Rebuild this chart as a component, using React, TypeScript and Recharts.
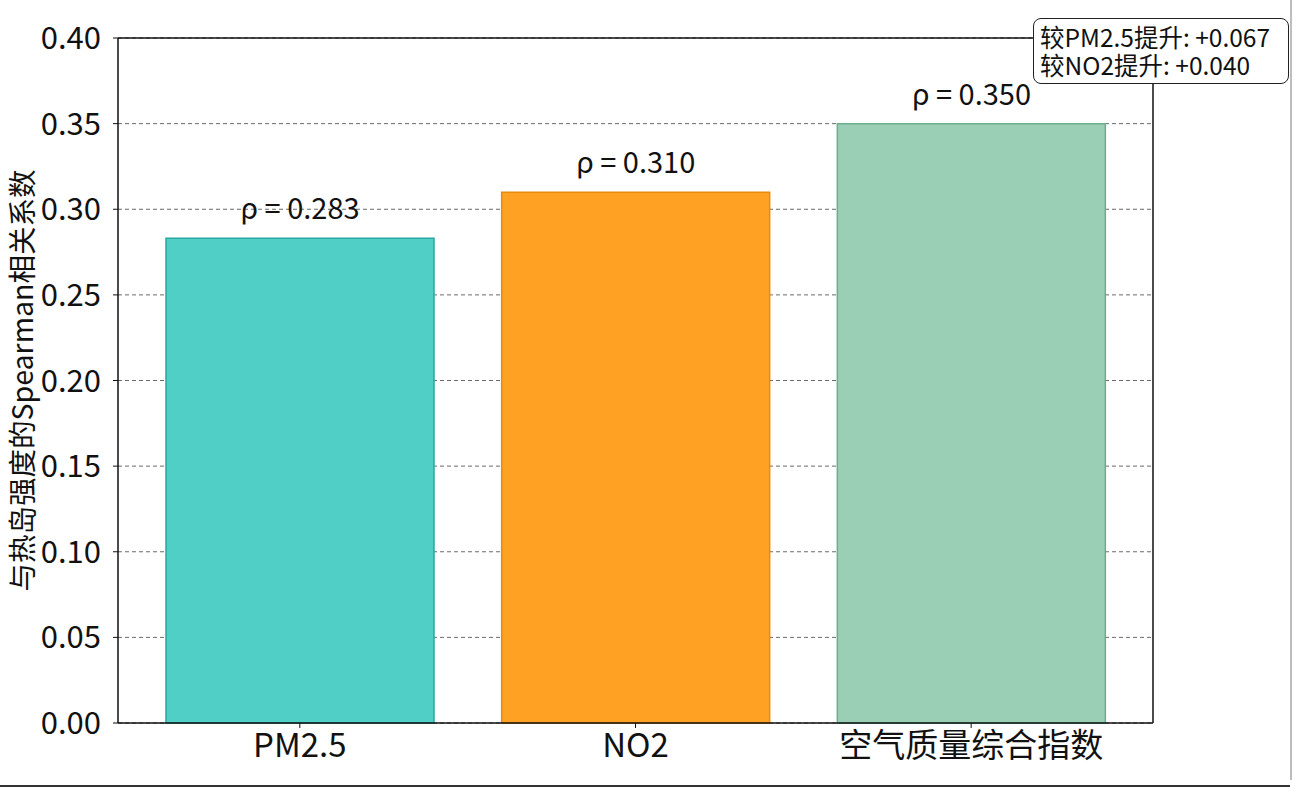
import {
  Bar,
  BarChart,
  CartesianGrid,
  Cell,
  LabelList,
  ReferenceLine,
  XAxis,
  YAxis,
} from "recharts";

const categories = ["PM2.5", "NO2", "空气质量综合指数"];
const rhoValues = [0.283, 0.31, 0.35];
const barColors = ["#4fcfc5", "#ffa224", "#9acfb6"];
const edgeColors = ["#2aa89f", "#e88a10", "#6aae8c"];
const yTicks = [0, 0.05, 0.1, 0.15, 0.2, 0.25, 0.3, 0.35, 0.4];
const noteLines = ["较PM2.5提升: +0.067", "较NO2提升: +0.040"];
const yLabel = "与热岛强度的Spearman相关系数";

const data = categories.map((name, i) => ({name, rho: rhoValues[i]}));

const FONT = '"Noto Sans CJK SC", "Noto Sans", sans-serif';

export default function App() {
  return (
    <div
      style={{
        position: "absolute",
        left: 0,
        top: 0,
        width: 1299,
        height: 792,
        background: "#fff",
        fontFamily: FONT,
      }}
    >
      <BarChart
        width={1299}
        height={792}
        data={data}
        margin={{top: 38, right: 145, bottom: 9, left: 0}}
      >
        <CartesianGrid
          vertical={false}
          stroke="#6a6a6a"
          strokeDasharray="4 3"
          strokeWidth={1}
        />
        <XAxis
          dataKey="name"
          padding={{left: 14, right: 14}}
          height={60}
          tickSize={5}
          tickMargin={6}
          stroke="#111"
          tick={{fill: "#111", fontSize: 33, fontFamily: FONT}}
          axisLine={{stroke: "#111", strokeWidth: 1.5}}
        />
        <YAxis
          width={118}
          domain={[0, 0.4]}
          ticks={yTicks}
          tickFormatter={(v: number) => v.toFixed(2)}
          tickSize={5}
          tickMargin={12}
          stroke="#111"
          tick={{fill: "#111", fontSize: 31, fontFamily: FONT}}
          axisLine={{stroke: "#111", strokeWidth: 1.5}}
          label={{
            value: yLabel,
            angle: -90,
            position: "insideLeft",
            dx: 18,
            style: {
              textAnchor: "middle",
              fill: "#111",
              fontSize: 28.5,
              fontFamily: FONT,
            },
          }}
        />
        <YAxis
          yAxisId="right"
          orientation="right"
          width={1}
          domain={[0, 0.4]}
          tick={false}
          tickLine={false}
          axisLine={{stroke: "#111", strokeWidth: 1.5}}
        />
        <ReferenceLine y={0.4} stroke="#111" strokeWidth={1.5} />
        <Bar dataKey="rho" barSize={268} isAnimationActive={false}>
          {data.map((d, i) => (
            <Cell
              key={d.name}
              fill={barColors[i]}
              stroke={edgeColors[i]}
              strokeWidth={1.5}
            />
          ))}
          <LabelList
            dataKey="rho"
            position="top"
            offset={19}
            formatter={(v: number) => `ρ = ${Number(v).toFixed(3)}`}
            style={{fill: "#111", fontSize: 29, fontFamily: FONT}}
          />
        </Bar>
      </BarChart>

      {/* 注释框 右上角 */}
      <div
        style={{
          position: "absolute",
          left: 1033,
          top: 18,
          width: 256,
          height: 66,
          boxSizing: "border-box",
          border: "1.5px solid #222",
          borderRadius: 8,
          background: "#fff",
          padding: "4px 0 0 6px",
          fontSize: 24.5,
          lineHeight: "28px",
          color: "#111",
          whiteSpace: "nowrap",
        }}
      >
        {noteLines.map((t) => (
          <div key={t}>{t}</div>
        ))}
      </div>

      {/* 截图边框 */}
      <div
        style={{
          position: "absolute",
          left: 1290,
          top: 0,
          width: 2,
          height: 780,
          background: "#bdbdbd",
        }}
      />
      <div
        style={{
          position: "absolute",
          left: 0,
          top: 785,
          width: 1290,
          height: 2,
          background: "#333",
        }}
      />
    </div>
  );
}
